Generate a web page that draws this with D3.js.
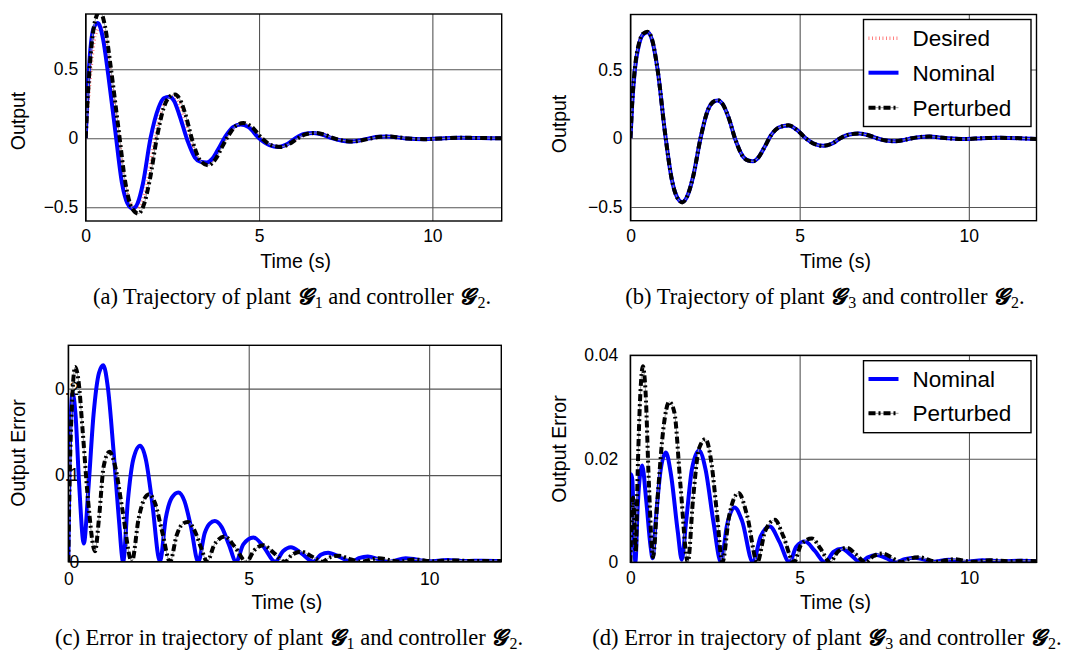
<!DOCTYPE html>
<html>
<head>
<meta charset="utf-8">
<script src="https://cdn.jsdelivr.net/npm/d3@7"></script>
<style>
  body { margin: 0; background: #fff; }
  .tick text { font-family: "Liberation Sans", Arial, sans-serif; font-size: 17.5px; fill: #000; }
  .grid line { stroke: #555; stroke-width: 1.1; }
  .label { font-family: "Liberation Sans", Arial, sans-serif; font-size: 19.5px; fill: #000; }
  .caption { font-family: "Liberation Serif", "Times New Roman", serif; font-size: 22.5px; fill: #000; }
  .legend text { font-family: "Liberation Sans", Arial, sans-serif; font-size: 22.5px; fill: #000; }
</style>
</head>
<body>
<script>
// time axis ticks shared by all panels
var timeTicks = [0, 5, 10];

// (a) plant G1 / controller G2 : [time, output]
var aDesired = [[0,0],[0.06,0.22],[0.15,0.5],[0.27,0.74],[0.42,0.81],[0.56,0.72],[0.72,0.46],[0.93,0.06],[1.13,-0.32],[1.3,-0.47],[1.46,-0.51],[1.62,-0.46],[1.78,-0.32],[2.0,0.0],[2.2,0.21],[2.36,0.29],[2.52,0.30],[2.66,0.27],[2.82,0.17],[3.04,-0.02],[3.25,-0.15],[3.45,-0.18],[3.65,-0.16],[3.85,-0.08],[4.1,0.02],[4.3,0.08],[4.52,0.10],[4.76,0.08],[5.05,0.0],[5.33,-0.05],[5.6,-0.062],[5.85,-0.043],[6.1,0.0],[6.35,0.03],[6.6,0.037],[6.88,0.024],[7.13,0.0],[7.43,-0.018],[7.7,-0.023],[7.98,-0.013],[8.23,0.0],[8.48,0.01],[8.73,0.012],[9.03,0.005],[9.28,-0.002],[9.78,-0.007],[10.22,-0.002],[10.82,0.003],[11.42,0.001],[12,0]];
var aNominal = [[0,0],[0.05,0.32],[0.12,0.6],[0.22,0.79],[0.35,0.835],[0.5,0.72],[0.65,0.46],[0.85,0.06],[1.05,-0.33],[1.2,-0.47],[1.36,-0.51],[1.5,-0.47],[1.65,-0.33],[1.87,0.0],[2.1,0.22],[2.25,0.29],[2.41,0.30],[2.55,0.27],[2.7,0.17],[2.94,-0.02],[3.15,-0.14],[3.3,-0.17],[3.49,-0.176],[3.65,-0.15],[3.8,-0.09],[4.05,0.02],[4.25,0.08],[4.47,0.10],[4.7,0.08],[5.0,0.0],[5.3,-0.05],[5.56,-0.063],[5.8,-0.045],[6.05,0.0],[6.3,0.03],[6.57,0.038],[6.85,0.025],[7.1,0.0],[7.4,-0.018],[7.67,-0.024],[7.95,-0.014],[8.2,0.0],[8.45,0.01],[8.7,0.012],[9.0,0.006],[9.25,-0.002],[9.75,-0.007],[10.2,-0.002],[10.8,0.003],[11.4,0.001],[12,0]];
var aPerturbed = [[0,0],[0.06,0.3],[0.15,0.62],[0.27,0.85],[0.41,0.92],[0.55,0.82],[0.72,0.52],[0.95,0.06],[1.15,-0.33],[1.32,-0.5],[1.52,-0.546],[1.68,-0.48],[1.85,-0.3],[2.05,0.0],[2.25,0.22],[2.42,0.3],[2.58,0.317],[2.72,0.28],[2.88,0.17],[3.08,-0.02],[3.3,-0.16],[3.53,-0.196],[3.75,-0.15],[3.92,-0.07],[4.12,0.02],[4.33,0.09],[4.55,0.11],[4.8,0.08],[5.08,0.0],[5.35,-0.05],[5.62,-0.063],[5.88,-0.04],[6.12,0.0],[6.37,0.03],[6.63,0.038],[6.9,0.024],[7.15,0.0],[7.45,-0.018],[7.72,-0.024],[8.0,-0.013],[8.25,0.0],[8.5,0.01],[8.75,0.012],[9.05,0.005],[9.3,-0.002],[9.8,-0.007],[10.25,-0.002],[10.85,0.003],[11.45,0.001],[12,0]];

// (b) plant G3 / controller G2
var bDesired = [[0,0],[0.05,0.24],[0.13,0.49],[0.25,0.68],[0.37,0.757],[0.5,0.772],[0.63,0.72],[0.8,0.5],[1.03,0.02],[1.22,-0.3],[1.38,-0.43],[1.53,-0.465],[1.68,-0.42],[1.85,-0.28],[2.07,0.0],[2.28,0.2],[2.44,0.263],[2.58,0.276],[2.72,0.25],[2.9,0.15],[3.1,-0.01],[3.33,-0.135],[3.48,-0.162],[3.62,-0.168],[3.78,-0.14],[3.95,-0.07],[4.15,0.02],[4.38,0.078],[4.67,0.094],[4.92,0.06],[5.18,0.0],[5.45,-0.043],[5.7,-0.055],[5.95,-0.04],[6.2,0.0],[6.47,0.027],[6.76,0.034],[7.05,0.02],[7.28,0.0],[7.55,-0.017],[7.8,-0.022],[8.08,-0.013],[8.32,0.0],[8.58,0.009],[8.84,0.012],[9.12,0.006],[9.38,0.0],[9.88,-0.006],[10.4,0.0],[10.9,0.003],[11.5,0.0],[12,-0.006]];
var bNominal = [[0,0],[0.05,0.25],[0.13,0.5],[0.25,0.68],[0.37,0.755],[0.5,0.77],[0.63,0.72],[0.8,0.5],[1.03,0.02],[1.22,-0.3],[1.38,-0.43],[1.53,-0.464],[1.68,-0.42],[1.85,-0.28],[2.07,0.0],[2.28,0.2],[2.44,0.262],[2.58,0.275],[2.72,0.25],[2.9,0.15],[3.1,-0.01],[3.33,-0.135],[3.48,-0.162],[3.62,-0.167],[3.78,-0.14],[3.95,-0.07],[4.15,0.02],[4.38,0.078],[4.67,0.093],[4.92,0.06],[5.18,0.0],[5.45,-0.043],[5.7,-0.055],[5.95,-0.04],[6.2,0.0],[6.47,0.027],[6.76,0.034],[7.05,0.02],[7.28,0.0],[7.55,-0.017],[7.8,-0.022],[8.08,-0.013],[8.32,0.0],[8.58,0.009],[8.84,0.012],[9.12,0.006],[9.38,0.0],[9.88,-0.006],[10.4,0.0],[10.9,0.003],[11.5,0.0],[12,-0.006]];
var bPerturbed = [[0,0],[0.05,0.26],[0.13,0.51],[0.25,0.69],[0.37,0.76],[0.5,0.775],[0.63,0.725],[0.8,0.5],[1.03,0.02],[1.22,-0.3],[1.38,-0.432],[1.53,-0.467],[1.68,-0.42],[1.85,-0.28],[2.07,0.0],[2.28,0.2],[2.44,0.264],[2.58,0.277],[2.72,0.25],[2.9,0.15],[3.1,-0.01],[3.33,-0.136],[3.48,-0.163],[3.62,-0.168],[3.78,-0.14],[3.95,-0.07],[4.15,0.02],[4.38,0.078],[4.67,0.094],[4.92,0.06],[5.18,0.0],[5.45,-0.043],[5.7,-0.055],[5.95,-0.04],[6.2,0.0],[6.47,0.027],[6.76,0.034],[7.05,0.02],[7.28,0.0],[7.55,-0.017],[7.8,-0.022],[8.08,-0.013],[8.32,0.0],[8.58,0.009],[8.84,0.012],[9.12,0.006],[9.38,0.0],[9.88,-0.006],[10.4,0.0],[10.9,0.003],[11.5,0.0],[12,-0.006]];

// (c) output error, plant G1
var cNominal = [[0,0],[0.03,0.1],[0.07,0.17],[0.12,0.195],[0.2,0.17],[0.3,0.09],[0.43,0.021],[0.55,0.08],[0.7,0.17],[0.85,0.218],[0.97,0.227],[1.1,0.2],[1.25,0.13],[1.4,0.05],[1.52,0.0],[1.65,0.07],[1.8,0.118],[1.99,0.134],[2.15,0.118],[2.32,0.07],[2.54,0.0],[2.7,0.05],[2.87,0.074],[3.05,0.08],[3.22,0.07],[3.4,0.04],[3.6,0.0],[3.78,0.033],[3.92,0.044],[4.06,0.047],[4.25,0.04],[4.45,0.02],[4.65,0.0],[4.85,0.02],[5.13,0.028],[5.4,0.018],[5.73,0.0],[5.95,0.012],[6.17,0.0166],[6.45,0.01],[6.79,0.0],[7.0,0.008],[7.2,0.0104],[7.5,0.006],[7.85,0.0],[8.05,0.004],[8.3,0.006],[8.6,0.003],[8.9,0.0],[9.35,0.004],[10,0.0005],[10.5,0.002],[11,0.0008],[11.5,0.0012],[12,0.0008]];
var cPerturbed = [[0,0],[0.04,0.1],[0.1,0.18],[0.19,0.225],[0.28,0.21],[0.4,0.15],[0.55,0.07],[0.74,0.012],[0.85,0.05],[0.98,0.11],[1.14,0.127],[1.3,0.11],[1.5,0.06],[1.76,0.0],[1.95,0.05],[2.1,0.072],[2.24,0.078],[2.4,0.068],[2.6,0.035],[2.82,0.0],[3.0,0.03],[3.15,0.043],[3.31,0.046],[3.5,0.036],[3.68,0.016],[3.85,0.0],[4.05,0.02],[4.34,0.029],[4.6,0.018],[4.94,0.0],[5.15,0.013],[5.4,0.019],[5.7,0.01],[6.0,0.0],[6.2,0.008],[6.46,0.0116],[6.75,0.006],[7.05,0.0],[7.25,0.005],[7.5,0.007],[7.8,0.003],[8.1,0.0],[8.6,0.004],[9.15,0.0003],[9.6,0.0025],[10.1,0.0005],[10.6,0.0015],[11.2,0.0008],[12,0.0008]];

// (d) output error, plant G3
var dNominal = [[0,0],[0.02,0.017],[0.06,0.016],[0.1,0.008],[0.15,0.0],[0.22,0.011],[0.35,0.0187],[0.47,0.012],[0.6,0.003],[0.66,0.0008],[0.75,0.008],[0.9,0.018],[1.05,0.0212],[1.2,0.017],[1.4,0.006],[1.52,0.0005],[1.65,0.008],[1.82,0.018],[2.03,0.0216],[2.22,0.018],[2.45,0.008],[2.68,0.0],[2.85,0.007],[3.08,0.0106],[3.3,0.008],[3.62,0.0],[3.85,0.005],[4.12,0.0069],[4.4,0.004],[4.7,0.0],[4.9,0.003],[5.16,0.004],[5.45,0.0022],[5.75,0.0],[6.0,0.002],[6.25,0.0026],[6.5,0.0015],[6.8,0.0],[7.0,0.0009],[7.28,0.0014],[7.55,0.0008],[7.85,0.0],[8.1,0.0006],[8.4,0.0009],[8.95,0.0001],[9.4,0.0005],[9.9,0.0001],[10.4,0.0004],[11,0.0002],[11.5,0.0003],[12,0.0002]];
var dPerturbed = [[0,0],[0.04,0.008],[0.08,0.0125],[0.12,0.008],[0.16,0.002],[0.22,0.018],[0.3,0.033],[0.37,0.0379],[0.45,0.033],[0.55,0.015],[0.67,0.001],[0.8,0.012],[0.98,0.026],[1.15,0.031],[1.3,0.029],[1.48,0.015],[1.7,0.0],[1.85,0.012],[2.03,0.022],[2.22,0.0238],[2.4,0.019],[2.55,0.01],[2.72,0.0],[2.92,0.009],[3.2,0.0134],[3.45,0.009],[3.75,0.0],[3.98,0.006],[4.27,0.0082],[4.52,0.005],[4.83,0.0],[5.05,0.0035],[5.36,0.0046],[5.62,0.0026],[5.9,0.0],[6.12,0.002],[6.4,0.0028],[6.65,0.0016],[6.95,0.0],[7.18,0.0012],[7.45,0.0017],[7.7,0.001],[8.0,0.0],[8.25,0.0007],[8.5,0.001],[9.05,0.0001],[9.55,0.0006],[10.1,0.0001],[10.6,0.0004],[11.2,0.0002],[11.6,0.0003],[12,0.0002]];

var outputTicks = [-0.5, 0, 0.5];
var outputTickLabels = ["\u22120.5", "0", "0.5"];
var errorTicksC = [0, 0.1, 0.2];
var errorTickLabelsC = ["0", "0.1", "0.2"];
var errorTicksD = [0, 0.02, 0.04];
var errorTickLabelsD = ["0", "0.02", "0.04"];

var styles = {
  Desired:   {stroke: "#ff4444", width: 3.5, dash: "0.9,2.6", opacity: 0.75},
  Nominal:   {stroke: "#0000ff", width: 4, dash: null, opacity: 1},
  Perturbed: {stroke: "#000", width: 4, dash: "7,3,2,3", opacity: 1}
};

var svg = d3.select("body").append("svg")
    .attr("width", 1073)
    .attr("height", 655);

var panels = [
  {id: "a", left: 85.7, right: 501.7, top: 14, bottom: 221, yDomain: [-0.6, 0.9],
   yTicks: outputTicks, yLabels: outputTickLabels, yPad: 7.5, xPad: 9,
   ylabel: "Output", ylabelX: 25, ylabelY: 121,
   series: [["Desired", aDesired], ["Nominal", aNominal], ["Perturbed", aPerturbed]],
   caption: ["(a) Trajectory of plant ", "1", " and controller ", "2", "."], capX: 292, capY: 304},
  {id: "b", left: 630.5, right: 1036.5, top: 14.5, bottom: 220.7, yDomain: [-0.6, 0.9],
   yTicks: outputTicks, yLabels: outputTickLabels, yPad: 8, xPad: 9,
   ylabel: "Output", ylabelX: 566, ylabelY: 124,
   series: [["Desired", bDesired], ["Nominal", bNominal], ["Perturbed", bPerturbed]],
   legend: {x: 863.5, y: 19.5, w: 167.5, h: 107, rows: [38.3, 72.7, 107.7]},
   caption: ["(b) Trajectory of plant ", "3", " and controller ", "2", "."], capX: 825, capY: 304},
  {id: "c", left: 68.3, right: 501.3, top: 345.3, bottom: 561.7, yDomain: [0, 0.25],
   yTicks: errorTicksC, yLabels: errorTickLabelsC, yPad: -11, xPad: 11,
   ylabel: "Output Error", ylabelX: 25, ylabelY: 453,
   series: [["Nominal", cNominal], ["Perturbed", cPerturbed]],
   caption: ["(c) Error in trajectory of plant ", "1", " and controller ", "2", "."], capX: 289, capY: 645},
  {id: "d", left: 630.3, right: 1036.7, top: 355.3, bottom: 562.3, yDomain: [0, 0.04],
   yTicks: errorTicksD, yLabels: errorTickLabelsD, yPad: 12, xPad: 9.5,
   ylabel: "Output Error", ylabelX: 566, ylabelY: 449,
   series: [["Nominal", dNominal], ["Perturbed", dPerturbed]],
   legend: {x: 863.5, y: 360.7, w: 167.5, h: 72, rows: [379, 413.3]},
   caption: ["(d) Error in trajectory of plant ", "3", " and controller ", "2", "."], capX: 827, capY: 645}
];

function drawPanel(p) {
  var x = d3.scaleLinear().domain([0, 12]).range([p.left, p.right]);
  var y = d3.scaleLinear().domain(p.yDomain).range([p.bottom, p.top]);
  var w = p.right - p.left, h = p.bottom - p.top;

  var g = svg.append("g").attr("id", "panel-" + p.id);

  // grid + tick labels
  var xAxis = d3.axisBottom(x).tickValues(timeTicks).tickSize(-h).tickPadding(p.xPad);
  var yAxis = d3.axisLeft(y).tickValues(p.yTicks).tickSize(-w).tickPadding(p.yPad)
      .tickFormat(function(d, i) { return p.yLabels[i]; });

  g.append("g")
      .attr("class", "grid")
      .attr("transform", "translate(0," + p.bottom + ")")
      .call(xAxis)
      .call(function(s) { s.select(".domain").remove(); });
  g.append("g")
      .attr("class", "grid")
      .attr("transform", "translate(" + p.left + ",0)")
      .call(yAxis)
      .call(function(s) { s.select(".domain").remove(); });
  g.selectAll(".tick text").attr("font-family", null).attr("font-size", null);

  g.append("clipPath").attr("id", "clip-" + p.id)
    .append("rect").attr("x", p.left).attr("y", p.top).attr("width", w).attr("height", h);

  var line = d3.line()
      .x(function(d) { return x(d[0]); })
      .y(function(d) { return y(d[1]); })
      .curve(d3.curveMonotoneX);

  var lines = g.append("g").attr("clip-path", "url(#clip-" + p.id + ")");
  p.series.forEach(function(s) {
    var st = styles[s[0]];
    if (s[0] == "Perturbed") {
      // faint thin line showing through the dash gaps
      lines.append("path")
          .attr("d", line(s[1]))
          .attr("fill", "none")
          .attr("stroke", "#999")
          .attr("stroke-width", 1);
    }
    lines.append("path")
        .attr("d", line(s[1]))
        .attr("fill", "none")
        .attr("stroke", st.stroke)
        .attr("stroke-width", st.width)
        .attr("stroke-dasharray", st.dash)
        .attr("stroke-opacity", st.opacity)
        .attr("stroke-linejoin", "round");
  });

  g.append("rect")
      .attr("x", p.left).attr("y", p.top)
      .attr("width", w).attr("height", h)
      .attr("fill", "none")
      .attr("stroke", "#000")
      .attr("stroke-width", 1.4);

  g.append("text")
      .attr("class", "label")
      .attr("x", (p.left + p.right) / 2 + 2)
      .attr("y", p.bottom + 47)
      .attr("text-anchor", "middle")
      .text("Time (s)");

  g.append("text")
      .attr("class", "label")
      .attr("transform", "translate(" + p.ylabelX + "," + p.ylabelY + ") rotate(-90)")
      .attr("text-anchor", "middle")
      .text(p.ylabel);

  if (p.legend) {
    var L = p.legend;
    var lg = g.append("g").attr("class", "legend");
    lg.append("rect")
        .attr("x", L.x).attr("y", L.y).attr("width", L.w).attr("height", L.h)
        .attr("fill", "#fff").attr("stroke", "#000").attr("stroke-width", 1.4);
    p.series.forEach(function(s, i) {
      var st = styles[s[0]];
      var ry = L.rows[i];
      if (s[0] == "Perturbed") {
        lg.append("line").attr("x1", L.x + 5).attr("x2", L.x + 35).attr("y1", ry).attr("y2", ry)
            .attr("stroke", "#999").attr("stroke-width", 1);
      }
      lg.append("line")
          .attr("x1", L.x + 5).attr("x2", L.x + 35)
          .attr("y1", ry).attr("y2", ry)
          .attr("stroke", st.stroke)
          .attr("stroke-width", st.width)
          .attr("stroke-dasharray", st.dash)
          .attr("stroke-opacity", st.opacity);
      lg.append("text")
          .attr("x", L.x + 49)
          .attr("y", ry + 8)
          .text(s[0]);
    });
  }

  // caption with script G and subscripts
  var cap = g.append("text")
      .attr("class", "caption")
      .attr("x", p.capX)
      .attr("y", p.capY)
      .attr("text-anchor", "middle");
  cap.append("tspan").text(p.caption[0]);
  cap.append("tspan").attr("font-style", "italic").attr("font-weight", "bold").text("\uD835\uDCD6");
  cap.append("tspan").attr("font-size", "16px").attr("dx", 2).attr("dy", 4).text(p.caption[1]);
  cap.append("tspan").attr("dy", -4).text(p.caption[2]);
  cap.append("tspan").attr("font-style", "italic").attr("font-weight", "bold").text("\uD835\uDCD6");
  cap.append("tspan").attr("font-size", "16px").attr("dx", 2).attr("dy", 4).text(p.caption[3]);
  cap.append("tspan").attr("dy", -4).text(p.caption[4]);
}

panels.forEach(drawPanel);
</script>
</body>
</html>
